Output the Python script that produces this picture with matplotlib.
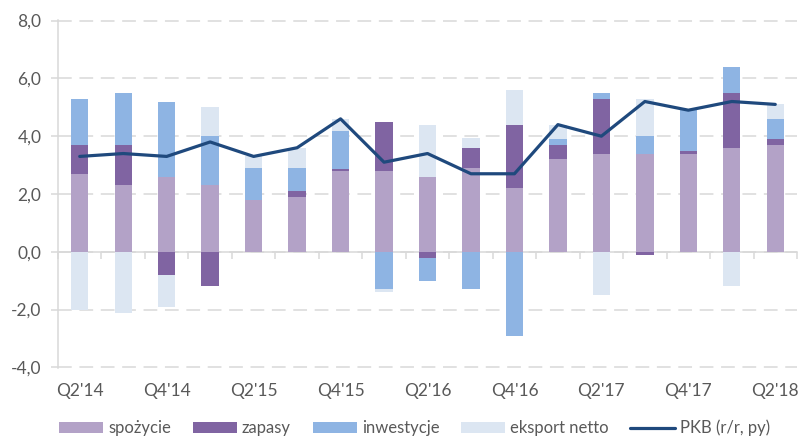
import matplotlib
matplotlib.use("Agg")
import matplotlib.pyplot as plt
import numpy as np

plt.rcParams['font.family'] = ['Lato', 'DejaVu Sans']

# quarters Q2'14 .. Q2'18
quarters = ["Q2'14", "Q3'14", "Q4'14", "Q1'15", "Q2'15", "Q3'15", "Q4'15", "Q1'16",
            "Q2'16", "Q3'16", "Q4'16", "Q1'17", "Q2'17", "Q3'17", "Q4'17", "Q1'18", "Q2'18"]

spozycie = [2.7, 2.3, 2.6, 2.3, 1.8, 1.9, 2.8, 2.8, 2.6, 2.9, 2.2, 3.2, 3.4, 3.4, 3.4, 3.6, 3.7]
zapasy = [1.0, 1.4, -0.8, -1.2, 0.0, 0.2, 0.08, 1.7, -0.2, 0.7, 2.2, 0.5, 1.9, -0.1, 0.1, 1.9, 0.2]
inwestycje = [1.6, 1.8, 2.6, 1.7, 1.1, 0.8, 1.3, -1.3, -0.8, -1.3, -2.9, 0.2, 0.2, 0.6, 1.4, 0.9, 0.7]
eksport = [-2.0, -2.1, -1.1, 1.0, 0.4, 0.7, 0.4, -0.1, 1.8, 0.35, 1.2, 0.5, -1.5, 1.3, 0.0, -1.2, 0.5]
pkb = [3.3, 3.4, 3.3, 3.8, 3.3, 3.6, 4.6, 3.1, 3.4, 2.7, 2.7, 4.4, 4.0, 5.2, 4.9, 5.2, 5.1]

series = [("spożycie", spozycie, "#B3A2C7"),
          ("zapasy", zapasy, "#8064A2"),
          ("inwestycje", inwestycje, "#8EB4E3"),
          ("eksport netto", eksport, "#DCE6F2")]

fig = plt.figure(figsize=(8.04, 4.38), dpi=100)
ax = fig.add_axes([58/804, 1-368/438, (797-58)/804, (368-20)/438])

x = np.arange(len(quarters))
pos_base = np.zeros(len(x))
neg_base = np.zeros(len(x))
for name, vals, col in series:
    v = np.array(vals)
    base = np.where(v >= 0, pos_base, neg_base)
    ax.bar(x, v, width=0.4, bottom=base, color=col, label=name, zorder=2)
    pos_base += np.where(v >= 0, v, 0)
    neg_base += np.where(v < 0, v, 0)

ax.plot(x, pkb, color="#1F497D", lw=2.3, label="PKB (r/r, py)", zorder=3,
        solid_capstyle='round', solid_joinstyle='round')

ax.set_xlim(-0.5, len(x) - 0.5)
ax.set_ylim(-4.02, 8.02)
ax.set_yticks(np.arange(-4, 9, 2))
ax.set_yticklabels([f"{t:.1f}".replace(".", ",") for t in np.arange(-4, 9, 2)])
ax.yaxis.grid(True, color="#D9D9D9", linestyle=(0, (9, 5)), lw=1.1, zorder=0)
ax.set_axisbelow(True)

for s in ["top", "right"]:
    ax.spines[s].set_visible(False)
ax.spines["left"].set_color("#D9D9D9")
ax.spines["left"].set_linewidth(1.1)
ax.spines["bottom"].set_position(("data", 0))
ax.spines["bottom"].set_color("#D9D9D9")
ax.spines["bottom"].set_linewidth(1.1)
ax.spines["bottom"].set_zorder(1)

ax.set_xticks(x)
ax.set_xticklabels([])
ax.tick_params(axis="x", which="major", length=0)
ax.set_xticks(np.arange(len(x) + 1) - 0.5, minor=True)
ax.tick_params(axis="x", which="minor", length=5, color="#D9D9D9", width=1.1)
ax.tick_params(axis="y", length=5, color="#D9D9D9", width=1.1, pad=7,
               labelsize=12.5, labelcolor="#595959")

sec = ax.secondary_xaxis("bottom")
sec.set_xticks(x[::2])
sec.set_xticklabels(quarters[::2])
sec.tick_params(length=0, pad=10.5, labelsize=12.5, labelcolor="#595959")
sec.spines["bottom"].set_visible(False)

h, l = ax.get_legend_handles_labels()
h = h[1:] + h[:1]
l = l[1:] + l[:1]
leg = fig.legend(h, l, loc="center left", bbox_to_anchor=(59/804, 1-428/438), ncol=5,
                 frameon=False, fontsize=12, handlelength=2.65, handleheight=0.65,
                 handletextpad=0.3, columnspacing=1.3, borderaxespad=0, borderpad=0)
for t in leg.get_texts():
    t.set_color("#595959")

fig.savefig("out.png", dpi=100)
